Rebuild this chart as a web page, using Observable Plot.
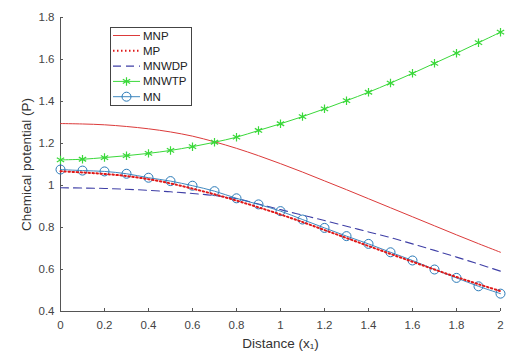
<!DOCTYPE html>
<html>
<head>
<meta charset="utf-8">
<script src="https://cdn.jsdelivr.net/npm/d3@7"></script>
<script src="https://cdn.jsdelivr.net/npm/@observablehq/plot@0.6"></script>
<style>
  html, body { margin: 0; padding: 0; background: #fff; }
  #wrap { position: relative; width: 511px; height: 351px; }
  #legend { position: absolute; left: 0; top: 0; }
</style>
</head>
<body>
<div id="wrap"></div>
<script>
const xs = [0, 0.1, 0.2, 0.3, 0.4, 0.5, 0.6, 0.7, 0.8, 0.9, 1.0, 1.1, 1.2, 1.3, 1.4, 1.5, 1.6, 1.7, 1.8, 1.9, 2.0];
const mnp   = [1.295, 1.293, 1.289, 1.281, 1.270, 1.255, 1.235, 1.208, 1.177, 1.142, 1.104, 1.064, 1.022, 0.980, 0.937, 0.894, 0.851, 0.808, 0.765, 0.723, 0.682];
const mp    = [1.068, 1.062, 1.055, 1.045, 1.030, 1.010, 0.985, 0.958, 0.928, 0.896, 0.862, 0.826, 0.788, 0.750, 0.712, 0.674, 0.637, 0.600, 0.564, 0.530, 0.497];
const mnwdp = [0.989, 0.988, 0.986, 0.982, 0.977, 0.970, 0.962, 0.952, 0.937, 0.912, 0.885, 0.859, 0.833, 0.806, 0.779, 0.752, 0.722, 0.691, 0.659, 0.626, 0.592];
const mnwtp = [1.122, 1.125, 1.133, 1.142, 1.153, 1.167, 1.185, 1.206, 1.230, 1.262, 1.294, 1.328, 1.365, 1.404, 1.444, 1.488, 1.534, 1.582, 1.630, 1.680, 1.730];
const mn    = [1.076, 1.071, 1.067, 1.056, 1.037, 1.021, 0.999, 0.973, 0.939, 0.910, 0.878, 0.838, 0.798, 0.759, 0.722, 0.682, 0.643, 0.600, 0.560, 0.520, 0.485];

const xTicks = [0, 0.2, 0.4, 0.6, 0.8, 1, 1.2, 1.4, 1.6, 1.8, 2];
const yTicks = [0.4, 0.6, 0.8, 1, 1.2, 1.4, 1.6, 1.8];
const seriesNames = ["MNP", "MP", "MNWDP", "MNWTP", "MN"];
const xLabel = "Distance (x\u2081)";
const yLabel = "Chemical potential (P)";

const colors = {
  MNP: "#dc3a3a",
  MP: "#e01818",
  MNWDP: "#3f3fa6",
  MNWTP: "#3ad83a",
  MN: "#2a7ab8"
};

const toRows = (vals) => xs.map((x, i) => ({x, y: vals[i]}));
const rMNP = toRows(mnp), rMP = toRows(mp), rMNWDP = toRows(mnwdp), rMNWTP = toRows(mnwtp), rMN = toRows(mn);

const fmt = d => String(+(+d).toFixed(1));
const axisColor = "#555";
const font = "'Liberation Sans', Arial, sans-serif";

const chart = Plot.plot({
  width: 511,
  height: 351,
  marginLeft: 60,
  marginRight: 11,
  marginTop: 17,
  marginBottom: 40,
  style: {fontFamily: font, fontSize: "11.5px", color: "#444", background: "#fff"},
  x: {domain: [0, 2]},
  y: {domain: [0.4, 1.8]},
  marks: [
    Plot.axisX({ticks: xTicks, tickSize: -3, tickPadding: 12, tickFormat: fmt, stroke: axisColor, fill: "#444", label: null, fontSize: 11.5}),
    Plot.axisY({ticks: yTicks, tickSize: -3, tickPadding: 9, tickFormat: fmt, stroke: axisColor, fill: "#444", label: null, fontSize: 11.5}),
    Plot.axisX({ticks: [], label: xLabel, labelAnchor: "center", labelOffset: 36, labelArrow: "none", fontSize: 13.5, fill: "#333"}),
    Plot.axisY({ticks: [], label: yLabel, labelAnchor: "center", labelOffset: 39, labelArrow: "none", fontSize: 13.5, fill: "#333"}),
    Plot.ruleX([0], {stroke: axisColor}),
    Plot.ruleY([0.4], {stroke: axisColor}),
    Plot.line(rMNP, {x: "x", y: "y", stroke: colors.MNP, strokeWidth: 1, curve: "catmull-rom"}),
    Plot.line(rMNWDP, {x: "x", y: "y", stroke: colors.MNWDP, strokeWidth: 1.1, strokeDasharray: "8,5", curve: "catmull-rom"}),
    Plot.line(rMNWTP, {x: "x", y: "y", stroke: colors.MNWTP, strokeWidth: 1, curve: "catmull-rom"}),
    Plot.dot(rMNWTP, {x: "x", y: "y", symbol: "asterisk", r: 4, stroke: colors.MNWTP, strokeWidth: 1.2}),
    Plot.line(rMN, {x: "x", y: "y", stroke: colors.MN, strokeWidth: 0.9, curve: "catmull-rom"}),
    Plot.dot(rMN, {x: "x", y: "y", symbol: "circle", r: 4.5, stroke: colors.MN, strokeWidth: 1, fill: "none"}),
    Plot.line(rMP, {x: "x", y: "y", stroke: colors.MP, strokeWidth: 2, strokeDasharray: "1.5,2.5", curve: "catmull-rom"})
  ]
});

const wrap = document.getElementById("wrap");
wrap.appendChild(chart);

// Legend overlay
const ns = "http://www.w3.org/2000/svg";
const lg = document.createElementNS(ns, "svg");
lg.setAttribute("id", "legend");
lg.setAttribute("width", 511);
lg.setAttribute("height", 351);
lg.style.pointerEvents = "none";
wrap.appendChild(lg);
const box = document.createElementNS(ns, "rect");
box.setAttribute("x", 110.5); box.setAttribute("y", 27.5);
box.setAttribute("width", 81); box.setAttribute("height", 78);
box.setAttribute("fill", "#fff"); box.setAttribute("stroke", "#444"); box.setAttribute("stroke-width", 1);
lg.appendChild(box);
const styles = {
  MNP: {dash: null, w: 1},
  MP: {dash: "1.5,2.5", w: 2},
  MNWDP: {dash: "8,5", w: 1.1},
  MNWTP: {dash: null, w: 1, marker: "asterisk"},
  MN: {dash: null, w: 0.9, marker: "circle"}
};
seriesNames.forEach((name, i) => {
  const cy = 35.5 + i * 15.3;
  const st = styles[name];
  const ln = document.createElementNS(ns, "line");
  ln.setAttribute("x1", 113); ln.setAttribute("x2", 140);
  ln.setAttribute("y1", cy); ln.setAttribute("y2", cy);
  ln.setAttribute("stroke", colors[name]); ln.setAttribute("stroke-width", st.w);
  if (st.dash) ln.setAttribute("stroke-dasharray", st.dash);
  lg.appendChild(ln);
  if (st.marker === "circle") {
    const c = document.createElementNS(ns, "circle");
    c.setAttribute("cx", 126.5); c.setAttribute("cy", cy); c.setAttribute("r", 4.5);
    c.setAttribute("fill", "none"); c.setAttribute("stroke", colors[name]);
    lg.appendChild(c);
  } else if (st.marker === "asterisk") {
    const p = document.createElementNS(ns, "path");
    const s = d3.symbol(d3.symbolAsterisk, 4 * 4 * Math.PI)();
    p.setAttribute("d", s);
    p.setAttribute("transform", `translate(126.5,${cy})`);
    p.setAttribute("stroke", colors[name]); p.setAttribute("stroke-width", 1.2); p.setAttribute("fill", "none");
    lg.appendChild(p);
  }
  const t = document.createElementNS(ns, "text");
  t.setAttribute("x", 143); t.setAttribute("y", cy);
  t.setAttribute("dy", "0.35em");
  t.setAttribute("font-family", font);
  t.setAttribute("font-size", "11.5px");
  t.setAttribute("fill", "#222");
  t.textContent = name;
  lg.appendChild(t);
});
</script>
</body>
</html>
